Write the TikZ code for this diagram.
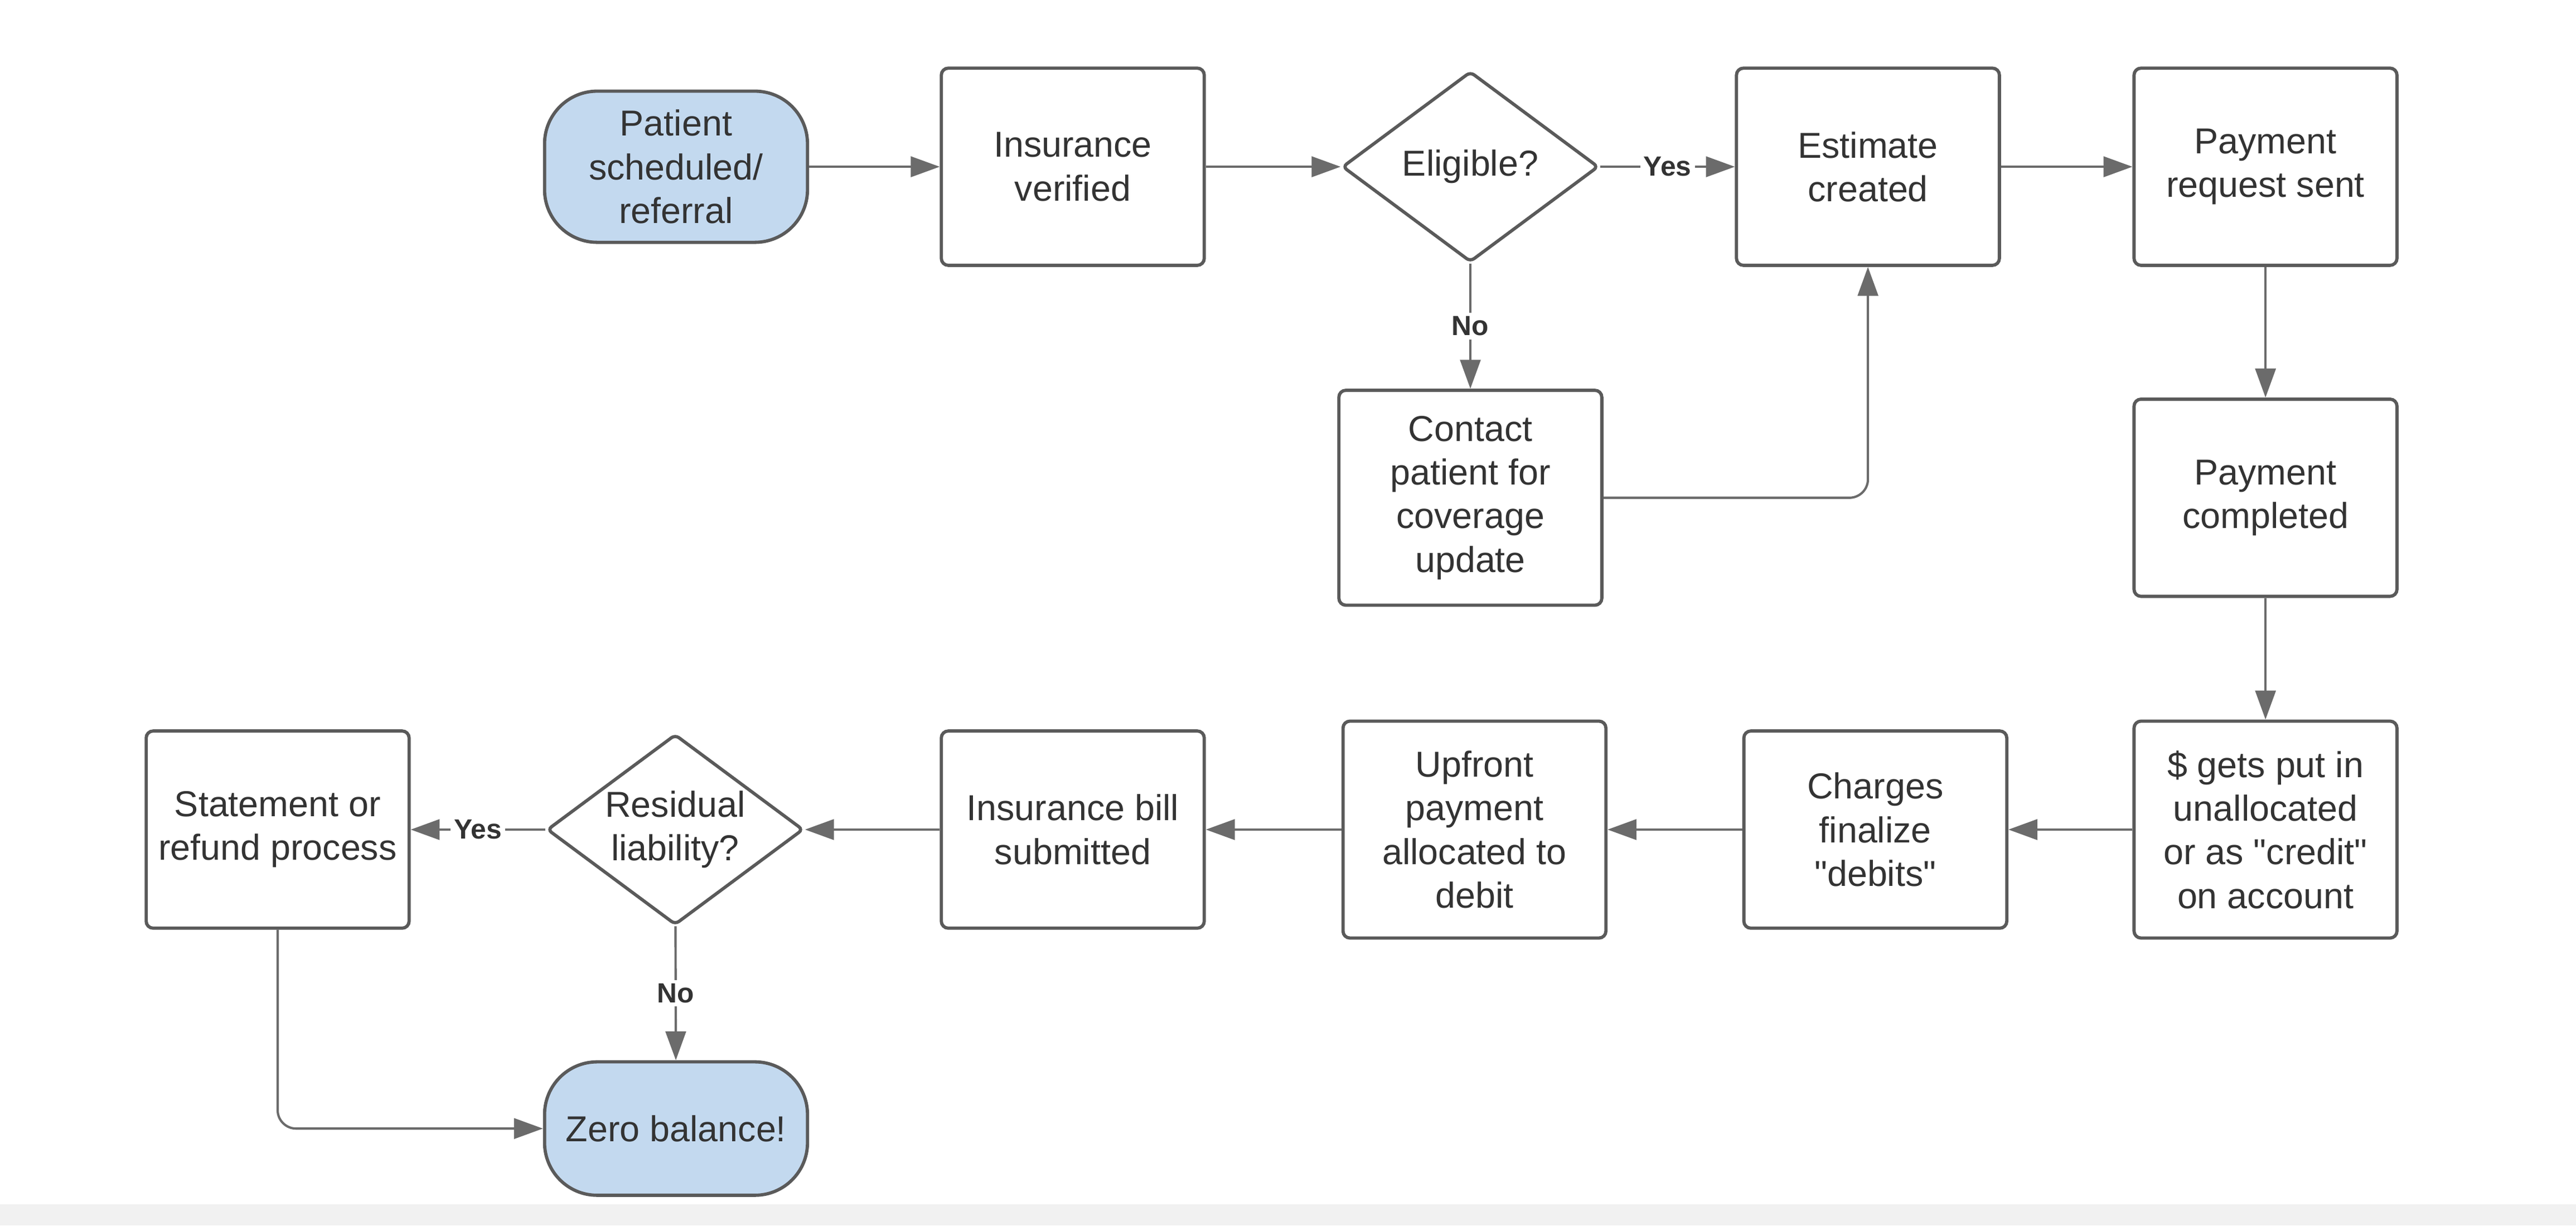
\documentclass[tikz,border=0pt]{standalone}
\usepackage{fontspec}
\setmainfont{Liberation Sans}
\usetikzlibrary{shapes.geometric,arrows.meta}
\definecolor{linegray}{HTML}{6B6B6B}
\definecolor{bordergray}{HTML}{5A5A5A}
\definecolor{termblue}{HTML}{C3D9EF}
\definecolor{textgray}{HTML}{333333}
\definecolor{bandgray}{HTML}{F1F1F1}
\begin{document}
\begin{tikzpicture}[x=0.025cm, y=-0.025cm,
    term/.style={rounded corners=0.8cm, fill=termblue},
    decide/.style={diamond, aspect=1.34, inner sep=0pt, rounded corners=2pt, minimum width=3.9cm, minimum height=2.9cm},
    answer/.style={fill=white, inner sep=1.5pt, text=textgray, font=\fontsize{12}{14}\selectfont\bfseries},
    >={Triangle[length=0.44cm, width=0.31cm]}]

    \useasboundingbox (0,0) rectangle (1568,746);
    \fill [white] (0,0) rectangle (1568,746);
    \fill [bandgray] (0,733) rectangle (1568,746);

    \begin{scope}[every node/.style={draw=bordergray, line width=1.4pt, rounded corners=3pt, minimum width=4.0cm, minimum height=3.0cm, align=center, text=textgray, font=\fontsize{15.6}{18.9}\selectfont}]
        \node [term, minimum height=2.3cm] (patient) at (411.5,101.5) {Patient\\scheduled/\\referral};
        \node (insver) at (653,101.5) {Insurance\\verified};
        \node [decide] (eligible) at (895,101.5) {Eligible?};
        \node (estimate) at (1137,101.5) {Estimate\\created};
        \node (payreq) at (1379,101.5) {Payment\\request sent};
        \node [minimum height=3.27cm] (contact) at (895,303) {Contact\\patient for\\coverage\\update};
        \node (paydone) at (1379,303) {Payment\\completed};
        \node [minimum height=3.3cm] (credit) at (1379,505) {\$ gets put in\\unallocated\\or as \textquotedbl credit\textquotedbl\\on account};
        \node (charges) at (1141.5,505) {Charges\\finalize\\\textquotedbl debits\textquotedbl};
        \node [minimum height=3.3cm] (upfront) at (897.5,505) {Upfront\\payment\\allocated to\\debit};
        \node (insbill) at (653,505) {Insurance bill\\submitted};
        \node [decide] (residual) at (411,505) {Residual\\liability?};
        \node (statement) at (169,505) {Statement or\\refund process};
        \node [term, minimum height=2.03cm] (zero) at (411.5,687) {Zero balance!};
    \end{scope}

    \begin{scope}[every path/.style={->, draw=linegray, line width=1pt}]
        \path (patient) edge (insver);
        \path (insver) edge (eligible);
        \path (eligible) edge node[answer] {Yes} (estimate);
        \path (eligible) edge node[answer] {No} (contact);
        \draw [rounded corners=8pt] (contact) -| (estimate);
        \path (estimate) edge (payreq);
        \path (payreq) edge (paydone);
        \path (paydone) edge (credit);
        \path (credit) edge (charges);
        \path (charges) edge (upfront);
        \path (upfront) edge (insbill);
        \path (insbill) edge (residual);
        \path (residual) edge node[answer] {Yes} (statement);
        \path (residual) edge node[answer] {No} (zero);
        \draw [rounded corners=8pt] (statement) |- (zero);
    \end{scope}
\end{tikzpicture}
\end{document}
